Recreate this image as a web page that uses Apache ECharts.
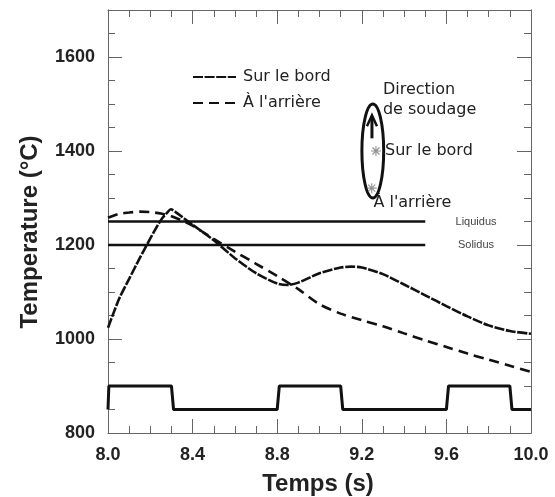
<!DOCTYPE html>
<html><head><meta charset="utf-8">
<script src="https://cdn.jsdelivr.net/npm/echarts@6/dist/echarts.min.js"></script>
<style>html,body{margin:0;padding:0;background:#fff}#c{width:555px;height:497px}</style>
</head><body><div id="c"></div>
<script>
// ---- data ----
const surLeBordT = [8.00, 8.025, 8.055, 8.10, 8.15, 8.20, 8.25, 8.28, 8.297, 8.32, 8.40, 8.50, 8.60, 8.70, 8.80, 8.85, 8.90, 9.00, 9.10, 9.15, 9.20, 9.30, 9.40, 9.50, 9.60, 9.70, 9.80, 9.90, 10.0];
const surLeBordV = [1024, 1054, 1088, 1128, 1172, 1214, 1253, 1269, 1276, 1270, 1243, 1210, 1172, 1140, 1118, 1115, 1120, 1140, 1152, 1154, 1152, 1138, 1116, 1093, 1070, 1048, 1029, 1017, 1011];
const arriereT = [8.00, 8.05, 8.10, 8.15, 8.20, 8.25, 8.30, 8.35, 8.40, 8.50, 8.60, 8.70, 8.80, 8.90, 9.00, 9.10, 9.20, 9.30, 9.40, 9.50, 9.60, 9.70, 9.80, 9.90, 10.0];
const arriereV = [1258, 1266, 1269, 1271, 1270, 1267, 1261, 1252, 1241, 1213, 1186, 1160, 1134, 1106, 1074, 1054, 1040, 1027, 1012, 997, 983, 969, 956, 943, 930];
const pulseT = [8.00, 8.004, 8.30, 8.31, 8.80, 8.81, 9.10, 9.11, 9.60, 9.61, 9.90, 9.91, 10.0];
const pulseV = [850, 900, 900, 850, 850, 900, 900, 850, 850, 900, 900, 850, 850];
const liquidusT = [8.0, 9.5];
const liquidusV = [1250, 1250];
const solidusT = [8.0, 9.5];
const solidusV = [1200, 1200];
const seriesNames = ['Sur le bord', "À l'arrière"];
const lineLabels = ['Liquidus', 'Solidus'];
const lineLabelX = [9.74, 9.74];
const lineLabelY = [1250, 1200];
const noteTexts = ['Direction', 'de soudage', 'Sur le bord', "À l'arrière"];
const noteX = [9.30, 9.30, 9.31, 9.255];
const noteY = [1530, 1488, 1400, 1290];
const starX = [9.267, 9.247];
const starY = [1400, 1321];
const ellipseC = [9.252, 1400];
const ellipseR = [0.0515, 100];
const arrowX = 9.248, arrowFrom = 1427, arrowTo = 1476;
const xTicks = {min: 8, max: 10, major: 0.4};
const yTicks = {min: 800, max: 1700, major: 200, minor: 50};

const zip = (a, b) => a.map((v, i) => [v, b[i]]);
const axisCol = '#666';
const labFont = 'Liberation Sans';

const chart = echarts.init(document.getElementById('c'), null, {renderer: 'canvas'});

function xAx(pos, showLabels) {
  return {
    type: 'value', position: pos, min: xTicks.min, max: xTicks.max, interval: xTicks.major,
    axisLine: {show: true, onZero: false, lineStyle: {color: axisCol, width: 1}},
    axisTick: {show: true, inside: true, length: 14, lineStyle: {color: axisCol, width: 1}},
    minorTick: {show: true, splitNumber: 4, length: 7, lineStyle: {color: axisCol, width: 1}},
    splitLine: {show: false},
    axisLabel: {show: showLabels, margin: 13, fontFamily: labFont, fontWeight: 'bold', fontSize: 18, color: '#222',
      formatter: v => v.toFixed(1)}
  };
}
function yAx(pos, interval, len, showLabels) {
  return {
    type: 'value', position: pos, min: yTicks.min, max: yTicks.max, interval: interval,
    axisLine: {show: true, onZero: false, lineStyle: {color: axisCol, width: 1}},
    axisTick: {show: true, inside: true, length: len, lineStyle: {color: axisCol, width: 1}},
    splitLine: {show: false},
    axisLabel: {show: showLabels, margin: 13, fontFamily: labFont, fontWeight: 'bold', fontSize: 18, color: '#222',
      showMaxLabel: false, formatter: v => String(Math.round(v))}
  };
}

const option = {
  animation: false,
  backgroundColor: '#fff',
  grid: {left: 108, right: 24, top: 10, bottom: 64, containLabel: false},
  xAxis: [xAx('bottom', true), xAx('top', false)],
  yAxis: [yAx('left', yTicks.major, 14, true), yAx('left', yTicks.minor, 7, false),
          yAx('right', yTicks.major, 14, false), yAx('right', yTicks.minor, 7, false)],
  legend: {
    data: seriesNames, orient: 'vertical', left: 187, top: 63, itemWidth: 43, itemHeight: 18, itemGap: 8,
    itemStyle: {opacity: 0},
    textStyle: {fontFamily: 'DejaVu Sans', fontSize: 16, color: '#222', lineHeight: 18, padding: [0, 0, 0, 2]}
  },
  graphic: [
    {type: 'text', x: 30, y: 232, rotation: Math.PI / 2,
      style: {text: 'Temperature (°C)', textAlign: 'center', textVerticalAlign: 'middle',
        font: 'bold 24px "Liberation Sans"', fill: '#222'}},
    {type: 'text', x: 318, y: 484,
      style: {text: 'Temps (s)', textAlign: 'center', textVerticalAlign: 'middle',
        font: 'bold 24px "Liberation Sans"', fill: '#222'}}
  ],
  series: [
    {name: seriesNames[0], type: 'line', data: zip(surLeBordT, surLeBordV), symbol: 'none', smooth: 0.25,
      lineStyle: {color: '#111', width: 2.6, type: [10, 1.6]}, itemStyle: {color: '#111'}, z: 5},
    {name: seriesNames[1], type: 'line', data: zip(arriereT, arriereV), symbol: 'none', smooth: 0.3,
      lineStyle: {color: '#111', width: 2.6, type: [10, 6]}, itemStyle: {color: '#111'}, z: 5},
    {name: 'pulse', type: 'line', data: zip(pulseT, pulseV), symbol: 'none',
      lineStyle: {color: '#111', width: 3}},
    {name: 'Liquidus', type: 'line', data: zip(liquidusT, liquidusV), symbol: 'none',
      lineStyle: {color: '#111', width: 2.6}},
    {name: 'Solidus', type: 'line', data: zip(solidusT, solidusV), symbol: 'none',
      lineStyle: {color: '#111', width: 2.6}},
    {name: 'lineLabels', type: 'custom', clip: false, data: lineLabels.map((t, i) => [lineLabelX[i], lineLabelY[i], i]),
      renderItem: (params, api) => {
        const p = api.coord([api.value(0), api.value(1)]);
        return {type: 'text', x: p[0], y: p[1], style: {text: lineLabels[api.value(2)], textAlign: 'center',
          textVerticalAlign: 'middle', font: '11px "Liberation Sans"', fill: '#444'}};
      }},
    {name: 'notes', type: 'custom', clip: false, data: noteTexts.map((t, i) => [noteX[i], noteY[i], i]),
      renderItem: (params, api) => {
        const p = api.coord([api.value(0), api.value(1)]);
        return {type: 'text', x: p[0], y: p[1], style: {text: noteTexts[api.value(2)], textAlign: 'left',
          textVerticalAlign: 'middle', font: '16px "DejaVu Sans"', fill: '#222'}};
      }},
    {name: 'ellipse', type: 'custom', clip: false, data: [[ellipseC[0], ellipseC[1], ellipseR[0], ellipseR[1]]],
      renderItem: (params, api) => {
        const c = api.coord([api.value(0), api.value(1)]);
        const s = api.size([api.value(2), api.value(3)]);
        return {type: 'ellipse', shape: {cx: c[0], cy: c[1], rx: s[0], ry: s[1]},
          style: {fill: 'none', stroke: '#111', lineWidth: 3}};
      }},
    {name: 'arrow', type: 'custom', clip: false, data: [[arrowX, arrowFrom, arrowTo]],
      renderItem: (params, api) => {
        const a = api.coord([api.value(0), api.value(1)]);
        const b = api.coord([api.value(0), api.value(2)]);
        return {type: 'group', children: [
          {type: 'line', shape: {x1: a[0], y1: a[1], x2: b[0], y2: b[1] + 1}, style: {stroke: '#111', lineWidth: 3}},
          {type: 'polyline', shape: {points: [[b[0] - 5, b[1] + 11], [b[0], b[1]], [b[0] + 5, b[1] + 11]]},
            style: {stroke: '#111', lineWidth: 2.5, fill: 'none'}}
        ]};
      }},
    {name: 'stars', type: 'scatter', data: zip(starX, starY), symbolSize: 10,
      symbol: 'path://M5,0 L5,10 M0,5 L10,5 M1.5,1.5 L8.5,8.5 M1.5,8.5 L8.5,1.5',
      itemStyle: {color: 'rgba(0,0,0,0)', borderColor: '#777', borderWidth: 1.1}, z: 6}
  ]
};
chart.setOption(option);
</script></body></html>
